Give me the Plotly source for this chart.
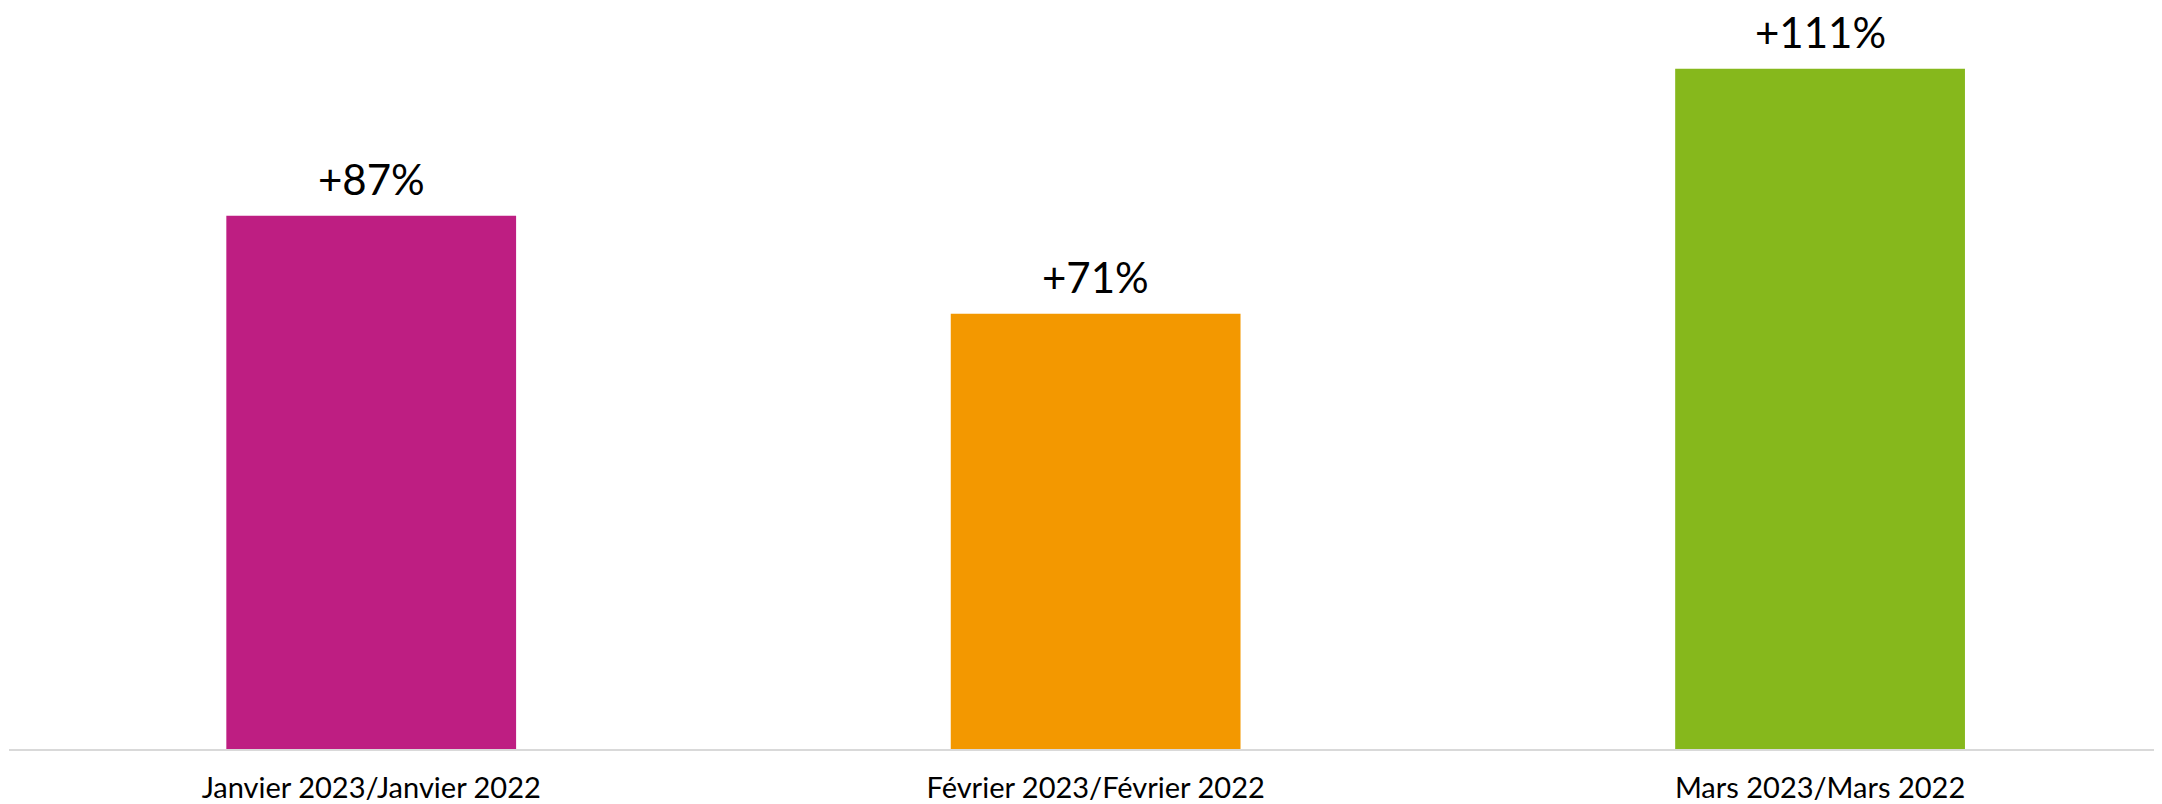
import plotly.graph_objects as go

categories = ["Janvier 2023/Janvier 2022", "Février 2023/Février 2022", "Mars 2023/Mars 2022"]
values = [87, 71, 111]
labels = ["+87%", "+71%", "+111%"]
colors = ["#BE1E82", "#F39800", "#86B81C"]

FONT = "Lato, Open Sans, sans-serif"

fig = go.Figure()
fig.add_trace(go.Bar(
    x=categories, y=values, marker=dict(color=colors, line=dict(width=0)),
    width=0.4, hoverinfo="skip",
))
for c, v, t in zip(categories, values, labels):
    fig.add_annotation(x=c, y=v, text=t, showarrow=False, yanchor="bottom",
                       yshift=11, borderpad=0,
                       font=dict(family=FONT, size=42, color="#000000"))

fig.update_layout(
    width=2154, height=796,
    margin=dict(l=1, r=0, t=0, b=55),
    paper_bgcolor="white", plot_bgcolor="white",
    showlegend=False,
    font=dict(family=FONT, color="#000000"),
    xaxis=dict(range=[-0.5, 2.472], showgrid=False, showline=True, linecolor="#D9D9D9", linewidth=2,
               ticks="", ticklabelstandoff=12, tickfont=dict(size=29, color="#000000"),
               automargin=False, fixedrange=True),
    yaxis=dict(range=[0, 120.9], visible=False, showgrid=False, zeroline=False, fixedrange=True),
)
fig.write_html("out.html")
